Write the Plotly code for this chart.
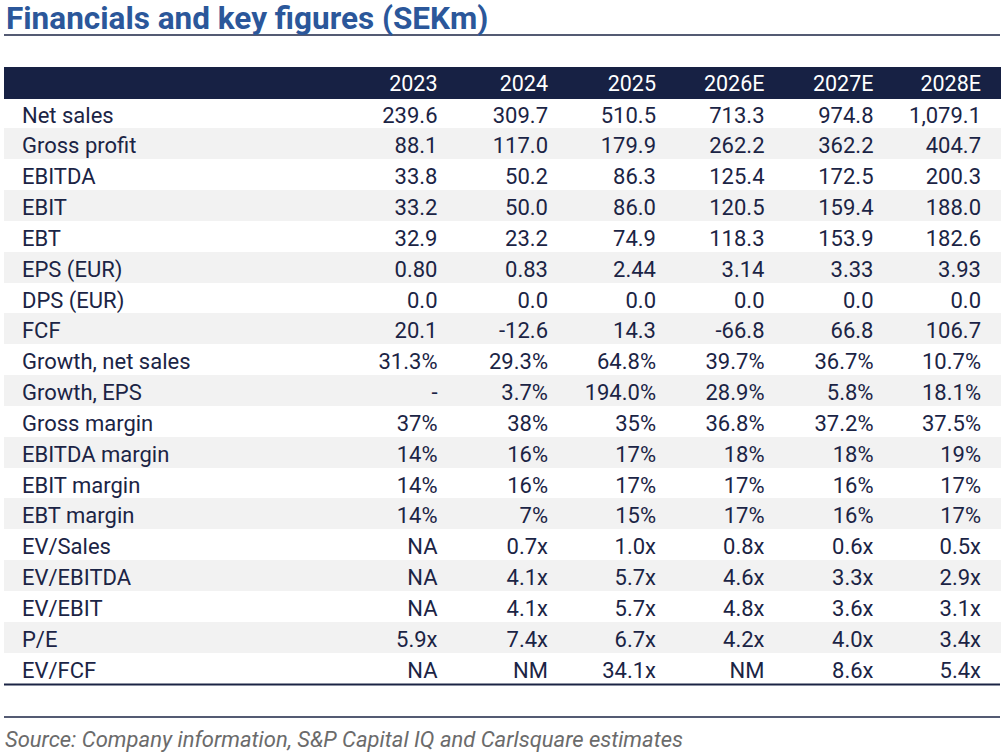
import plotly.graph_objects as go

W, H = 1001, 754

title = "Financials and key figures (SEKm)"
source = "Source: Company information, S&P Capital IQ and Carlsquare estimates"

years = ["2023", "2024", "2025", "2026E", "2027E", "2028E"]

metrics = ["Net sales", "Gross profit", "EBITDA", "EBIT", "EBT", "EPS (EUR)",
           "DPS (EUR)", "FCF", "Growth, net sales", "Growth, EPS", "Gross margin",
           "EBITDA margin", "EBIT margin", "EBT margin", "EV/Sales", "EV/EBITDA",
           "EV/EBIT", "P/E", "EV/FCF"]

col_2023 = ["239.6", "88.1", "33.8", "33.2", "32.9", "0.80", "0.0", "20.1", "31.3%", "-",
            "37%", "14%", "14%", "14%", "NA", "NA", "NA", "5.9x", "NA"]
col_2024 = ["309.7", "117.0", "50.2", "50.0", "23.2", "0.83", "0.0", "-12.6", "29.3%", "3.7%",
            "38%", "16%", "16%", "7%", "0.7x", "4.1x", "4.1x", "7.4x", "NM"]
col_2025 = ["510.5", "179.9", "86.3", "86.0", "74.9", "2.44", "0.0", "14.3", "64.8%", "194.0%",
            "35%", "17%", "17%", "15%", "1.0x", "5.7x", "5.7x", "6.7x", "34.1x"]
col_2026 = ["713.3", "262.2", "125.4", "120.5", "118.3", "3.14", "0.0", "-66.8", "39.7%", "28.9%",
            "36.8%", "18%", "17%", "17%", "0.8x", "4.6x", "4.8x", "4.2x", "NM"]
col_2027 = ["974.8", "362.2", "172.5", "159.4", "153.9", "3.33", "0.0", "66.8", "36.7%", "5.8%",
            "37.2%", "18%", "16%", "16%", "0.6x", "3.3x", "3.6x", "4.0x", "8.6x"]
col_2028 = ["1,079.1", "404.7", "200.3", "188.0", "182.6", "3.93", "0.0", "106.7", "10.7%", "18.1%",
            "37.5%", "19%", "17%", "17%", "0.5x", "2.9x", "3.1x", "3.4x", "5.4x"]

NAVY = "#172144"
TEXT = "#1b2445"
BLUE = "#2b579a"
STRIPE = "#f2f2f2"

n = len(metrics)
row_fill = ["white" if i % 2 == 0 else STRIPE for i in range(n)]
indent = "\u00a0\u2009"

labels = [indent + m for m in metrics]
blank = [""] * n

fig = go.Figure()
fig.add_trace(go.Table(
    domain=dict(x=[4 / W, 1000 / W], y=[0, 1 - 67 / H]),
    columnwidth=[331.5, 110, 110.5, 108, 108.5, 109, 107.5, 11],
    header=dict(
        values=[""] + years + [""],
        fill_color=NAVY,
        line=dict(width=1, color=NAVY),
        align=["left"] + ["right"] * 7,
        font=dict(family="Roboto", size=21.5, color="white"),
        height=31,
    ),
    cells=dict(
        values=[labels, col_2023, col_2024, col_2025, col_2026, col_2027, col_2028, blank],
        fill_color=[row_fill] * 8,
        line=dict(width=1, color=[row_fill] * 8),
        align=["left"] + ["right"] * 7,
        font=dict(family="Roboto", size=22, color=TEXT),
        height=30.84,
    ),
))

# title rule, table bottom rule and source rule
fig.add_shape(type="line", xref="paper", yref="paper", x0=4 / W, x1=1000 / W,
              y0=1 - 35 / H, y1=1 - 35 / H, line=dict(color=TEXT, width=1.5))
fig.add_shape(type="line", xref="paper", yref="paper", x0=4 / W, x1=1000 / W,
              y0=1 - 684.5 / H, y1=1 - 684.5 / H, line=dict(color=TEXT, width=2.2))
fig.add_shape(type="line", xref="paper", yref="paper", x0=4 / W, x1=1000 / W,
              y0=1 - 717 / H, y1=1 - 717 / H, line=dict(color=TEXT, width=1.5))

fig.add_annotation(text="<b>" + title + "</b>", xref="paper", yref="paper",
                   x=4 / W, y=1 - 18.5 / H, xanchor="left", yanchor="middle", showarrow=False,
                   font=dict(family="Roboto", size=31.5, color=BLUE))
fig.add_annotation(text="<i>" + source + "</i>", xref="paper", yref="paper",
                   x=3 / W, y=1 - 739 / H, xanchor="left", yanchor="middle", showarrow=False,
                   font=dict(family="Roboto", size=22, color="#6b6b6b"))

fig.update_layout(width=W, height=H, margin=dict(l=0, r=0, t=0, b=0),
                  paper_bgcolor="white", plot_bgcolor="white")

# the page body has an 8px default margin; drop it so the figure fills the window
fig.write_html("out.html", config={"displayModeBar": False},
               post_script="document.body.style.margin='0';document.body.style.overflow='hidden';")
